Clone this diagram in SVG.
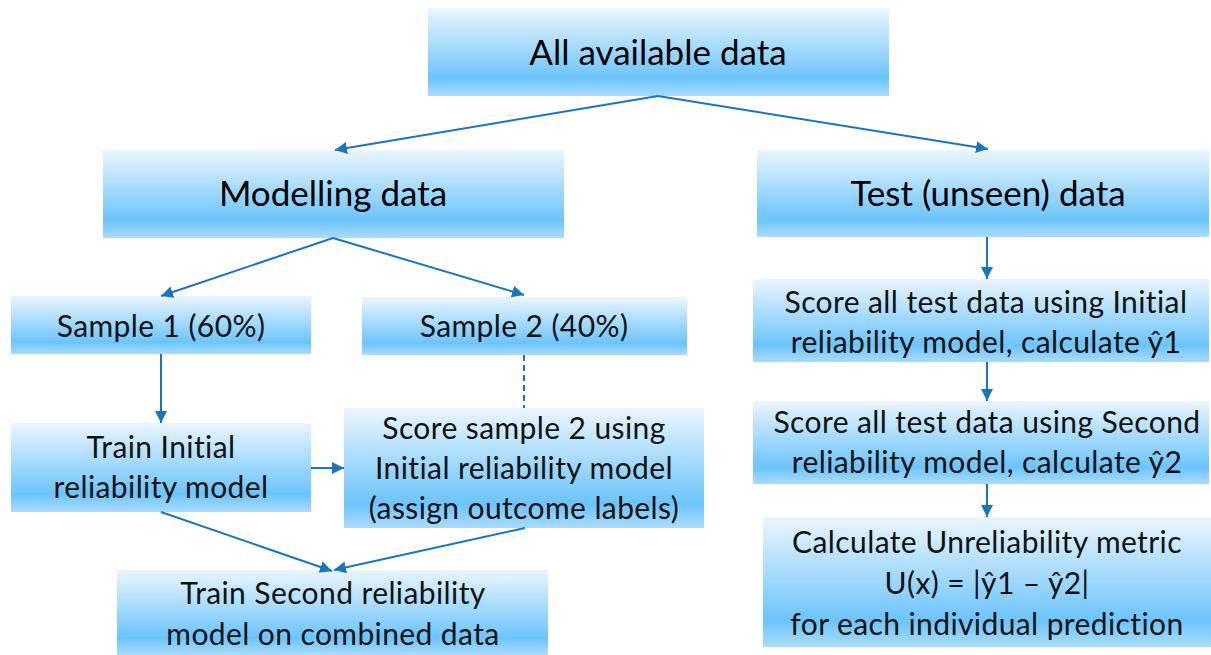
<svg xmlns="http://www.w3.org/2000/svg" width="1211" height="655" viewBox="0 0 1211 655">
<defs>
<linearGradient id="g" x1="0" y1="0" x2="0" y2="1">
<stop offset="0" stop-color="#ebf6fe"/>
<stop offset="0.8" stop-color="#6cc4fb"/>
<stop offset="1" stop-color="#aadcfd"/>
</linearGradient>
<marker id="ah" viewBox="0 0 10 10" refX="10" refY="5" markerWidth="6" markerHeight="6" orient="auto" markerUnits="strokeWidth">
<path d="M0,0 L10,5 L0,10 z" fill="#1b75bc"/>
</marker>
<style>
rect{fill:url(#g)}
text{font-family:Lato,"Open Sans","Liberation Sans",sans-serif;fill:#111;text-anchor:middle}
.big{font-size:35px;fill:#000}
.sm{font-size:30px;letter-spacing:0.4px}
.c line{stroke:#1b75bc;stroke-width:2;fill:none}
</style>
</defs>
<g id="n-all"><rect x="428" y="8" width="461" height="88"/><text class="big" x="658" y="65">All available data</text></g>
<g id="n-model"><rect x="103" y="150" width="461" height="88"/><text class="big" x="333" y="206">Modelling data</text></g>
<g id="n-test"><rect x="757" y="150" width="452" height="87"/><text class="big" x="988" y="206">Test (unseen) data</text></g>
<g id="n-s1"><rect x="11" y="296" width="300" height="58"/><text class="sm" x="161" y="337">Sample 1 (60%)</text></g>
<g id="n-s2"><rect x="362" y="297" width="325" height="58"/><text class="sm" x="524" y="337">Sample 2 (40%)</text></g>
<g id="n-train1"><rect x="11" y="423" width="300" height="89"/><text class="sm" x="161" y="458">Train Initial</text><text class="sm" x="161" y="498">reliability model</text></g>
<g id="n-score2"><rect x="344" y="408" width="360" height="120"/><text class="sm" x="524" y="439">Score sample 2 using</text><text class="sm" x="524" y="479">Initial reliability model</text><text class="sm" x="524" y="519">(assign outcome labels)</text></g>
<g id="n-train2"><rect x="117" y="570" width="431" height="85"/><text class="sm" x="333" y="604">Train Second reliability</text><text class="sm" x="333" y="645">model on combined data</text></g>
<g id="n-t1"><rect x="753" y="279" width="456" height="83"/><text class="sm" x="986" y="313">Score all test data using Initial</text><text class="sm" x="986" y="353">reliability model, calculate ŷ1</text></g>
<g id="n-t2"><rect x="753" y="401" width="456" height="83"/><text class="sm" x="987" y="433">Score all test data using Second</text><text class="sm" x="987" y="473">reliability model, calculate ŷ2</text></g>
<g id="n-calc"><rect x="763" y="517" width="448" height="130"/><text class="sm" x="987" y="553">Calculate Unreliability metric</text><text class="sm" x="987" y="594">U(x) = |ŷ1 – ŷ2|</text><text class="sm" x="987" y="635">for each individual prediction</text></g>
<g id="connectors" class="c">
<line x1="658" y1="96" x2="335" y2="150" marker-end="url(#ah)"/>
<line x1="658" y1="96" x2="988" y2="149" marker-end="url(#ah)"/>
<line x1="333" y1="238" x2="161" y2="296" marker-end="url(#ah)"/>
<line x1="333" y1="238" x2="524" y2="295" marker-end="url(#ah)"/>
<line x1="161" y1="354" x2="161" y2="423" marker-end="url(#ah)"/>
<line x1="524" y1="355" x2="524" y2="408" stroke-dasharray="6,4"/>
<line x1="311" y1="468" x2="344" y2="468" marker-end="url(#ah)"/>
<line x1="161" y1="512" x2="332" y2="571" marker-end="url(#ah)"/>
<line x1="525" y1="528" x2="334" y2="570" marker-end="url(#ah)"/>
<line x1="987" y1="237" x2="987" y2="279" marker-end="url(#ah)"/>
<line x1="987" y1="362" x2="987" y2="401" marker-end="url(#ah)"/>
<line x1="987" y1="484" x2="987" y2="517" marker-end="url(#ah)"/>
</g>
</svg>
